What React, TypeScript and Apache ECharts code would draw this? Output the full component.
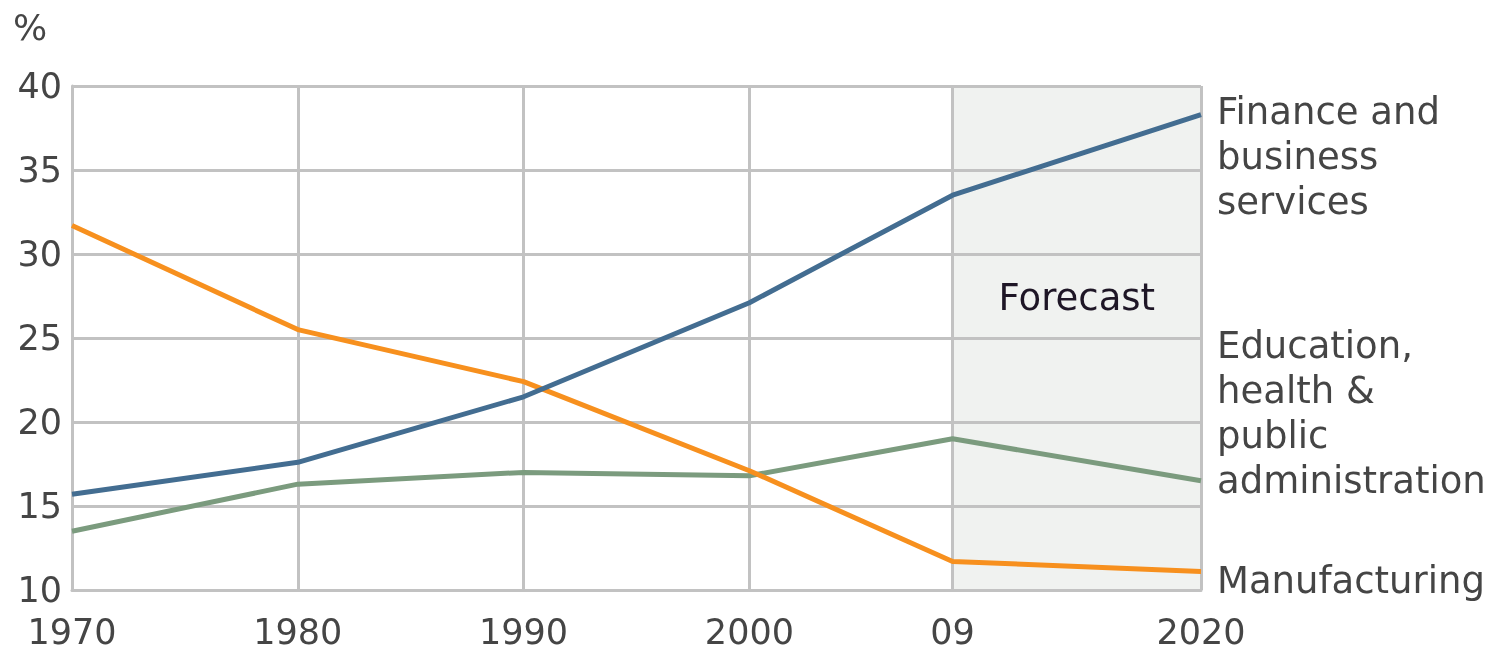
import React, { useEffect, useRef } from "react";
import * as echarts from "echarts";

const years = [1970, 1980, 1990, 2000, 2009, 2020];
const yearLabels = ["1970", "1980", "1990", "2000", "09", "2020"];
const finance = [15.7, 17.6, 21.5, 27.1, 33.5, 38.3];
const education = [13.5, 16.3, 17.0, 16.8, 19.0, 16.5];
const manufacturing = [31.7, 25.5, 22.4, 17.1, 11.7, 11.1];
const forecastStart = 2009;
const forecastEnd = 2020;

const FONT = "DejaVu Sans";
const GRID = "#c2c2c2";
const TXT = "#454545";

function pairs(vals: number[]) {
  return years.map((y, i) => [y, vals[i]]);
}

export default function App() {
  const ref = useRef<HTMLDivElement>(null);
  useEffect(() => {
    if (!ref.current) return;
    const chart = echarts.init(ref.current, undefined, { renderer: "svg" });
    const labelStyle = {
      show: true,
      fontFamily: FONT,
      fontSize: 37,
      lineHeight: 45,
      color: TXT,
      distance: 16,
      align: "left" as const,
    };
    chart.setOption({
      animation: false,
      textStyle: { fontFamily: FONT },
      grid: { left: 72, right: 289, top: 86, bottom: 63 },
      graphic: [
        {
          type: "text",
          left: 13,
          top: 9,
          style: { text: "%", font: `36px "${FONT}"`, fill: TXT },
        },
      ],
      xAxis: {
        type: "value",
        min: 1970,
        max: 2020,
        axisLine: { show: true, lineStyle: { color: GRID, width: 3 } },
        axisTick: { show: false, customValues: years },
        axisLabel: {
          customValues: years,
          formatter: (v: number) => {
            const i = years.indexOf(v);
            return i >= 0 ? yearLabels[i] : "";
          },
          fontFamily: FONT,
          fontSize: 35,
          color: TXT,
          margin: 24,
        },
        splitLine: { show: true, lineStyle: { color: GRID, width: 3 } },
      },
      yAxis: {
        type: "value",
        min: 10,
        max: 40,
        interval: 5,
        axisLine: { show: true, lineStyle: { color: GRID, width: 3 } },
        axisTick: { show: false },
        axisLabel: { fontFamily: FONT, fontSize: 35, color: TXT, margin: 10 },
        splitLine: { show: true, lineStyle: { color: GRID, width: 3 } },
      },
      series: [
        {
          name: "Manufacturing",
          type: "line",
          data: pairs(manufacturing),
          showSymbol: false,
          lineStyle: { color: "#f7901e", width: 5 },
          itemStyle: { color: "#f7901e" },
          z: 3,
          endLabel: { ...labelStyle, formatter: "Manufacturing", offset: [0, 9] },
          markArea: {
            silent: true,
            itemStyle: { color: "#f0f2f0" },
            label: {
              show: true,
              position: "inside",
              offset: [0, -41],
              fontFamily: FONT,
              fontSize: 37,
              color: "#1e1626",
            },
            data: [[{ xAxis: forecastStart, name: "Forecast" }, { xAxis: forecastEnd }]],
            z: -1,
          },
        },
        {
          name: "Education, health & public administration",
          type: "line",
          data: pairs(education),
          showSymbol: false,
          lineStyle: { color: "#7b9b7e", width: 5 },
          itemStyle: { color: "#7b9b7e" },
          z: 2,
          endLabel: {
            ...labelStyle,
            formatter: "Education,\nhealth &\npublic\nadministration",
            offset: [0, -68],
          },
        },
        {
          name: "Finance and business services",
          type: "line",
          data: pairs(finance),
          showSymbol: false,
          lineStyle: { color: "#436d91", width: 5 },
          itemStyle: { color: "#436d91" },
          z: 4,
          endLabel: {
            ...labelStyle,
            formatter: "Finance and\nbusiness\nservices",
            offset: [0, 42],
          },
        },
      ],
    });
    return () => chart.dispose();
  }, []);
  return (
    <div
      ref={ref}
      style={{ position: "fixed", left: 0, top: 0, width: 1490, height: 653 }}
    />
  );
}
